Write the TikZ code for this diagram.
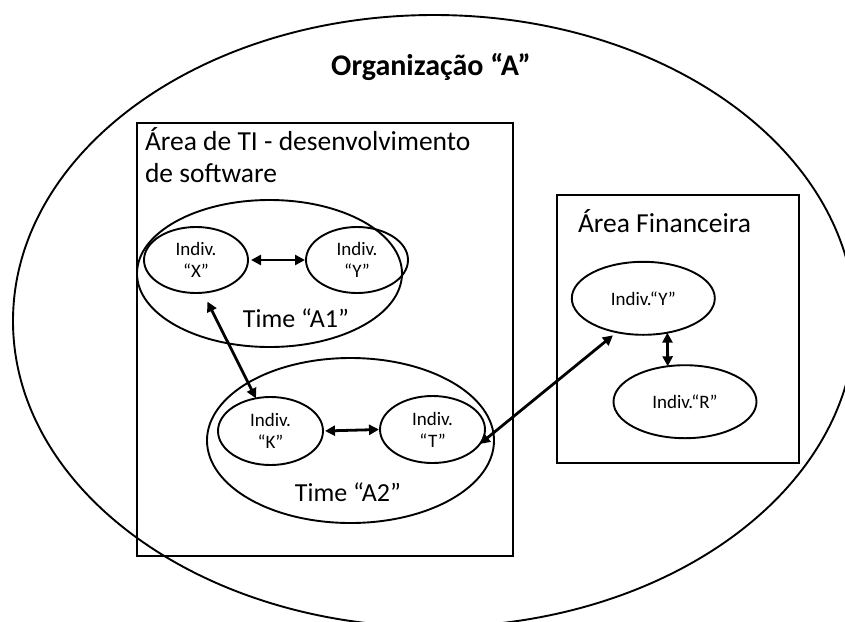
\documentclass[tikz,border=0pt]{standalone}
\usepackage{fontspec}
\setmainfont{Carlito}
\usetikzlibrary{shapes.geometric,arrows.meta}
\begin{document}
\begin{tikzpicture}[x=1pt,y=-1pt,
  every node/.style={inner sep=0pt, outer sep=0pt},
  team/.style={draw, ellipse, line width=1.9pt},
  unit/.style={draw, ellipse, line width=1.9pt, align=center,
    font=\fontsize{19}{22}\selectfont},
  area/.style={draw, rectangle, line width=2.2pt},
  lbl/.style={font=\fontsize{26}{30}\selectfont},
  link/.style={line width=2.8pt, {Triangle[length=10pt,width=10pt]}-{Triangle[length=10pt,width=10pt]}},
]
\useasboundingbox (0,0) rectangle (845,621);
\fill[white] (0,0) rectangle (845,621);

% organisation
\node[team, minimum width=842pt, minimum height=612pt] (org) at (434,321) {};
\node[font=\bfseries\fontsize{30}{34}\selectfont] (title) at (431,67) {Organização “A”};

% IT area
\node[area, minimum width=376pt, minimum height=433pt] (ti) at (325,339.5) {};
\node[anchor=base west, align=left, font=\fontsize{27.5}{32}\selectfont] (tilabel)
  at (145,182.7) {Área de TI - desenvolvimento\\de software};

% team A1
\node[team, minimum width=265pt, minimum height=147pt] (a1) at (269.5,273.5) {};
\node[unit, minimum width=104pt, minimum height=66pt] (x) at (196,260) {Indiv.\\“X”};
\node[unit, minimum width=102pt, minimum height=66pt] (y) at (357,260) {Indiv.\\“Y”};
\node[lbl] (a1label) at (296,318) {Time “A1”};

% team A2
\node[team, minimum width=287pt, minimum height=165pt] (a2) at (350.5,440.5) {};
\node[unit, minimum width=105pt, minimum height=68pt] (k) at (270.5,431) {Indiv.\\“K”};
\node[unit, minimum width=105pt, minimum height=67pt] (t) at (432.5,429.5) {Indiv.\\“T”};
\node[lbl] (a2label) at (348,492) {Time “A2”};

% finance area
\node[area, minimum width=242pt, minimum height=268pt] (fin) at (678,329) {};
\node[anchor=base west, font=\fontsize{27.5}{32}\selectfont] (finlabel) at (578,232) {Área Financeira};
\node[unit, minimum width=143pt, minimum height=73pt] (fy) at (643.3,298.3) {Indiv.“Y”};
\node[unit, minimum width=143pt, minimum height=73pt] (fr) at (685,401.7) {Indiv.“R”};

% links
\draw[link, shorten <=3pt, shorten >=1pt] (x.east) -- (y.west);
\draw[link, shorten <=2pt, shorten >=1pt] (k.east) -- (t.west);
\draw[link, shorten <=10pt] (x.-78) -- (k.114);
\draw[link, shorten >=5pt] (t.-17) -- (fy.-128);
\draw[link] (fy.-55.6) -- (fr.116.6);
\end{tikzpicture}
\end{document}
